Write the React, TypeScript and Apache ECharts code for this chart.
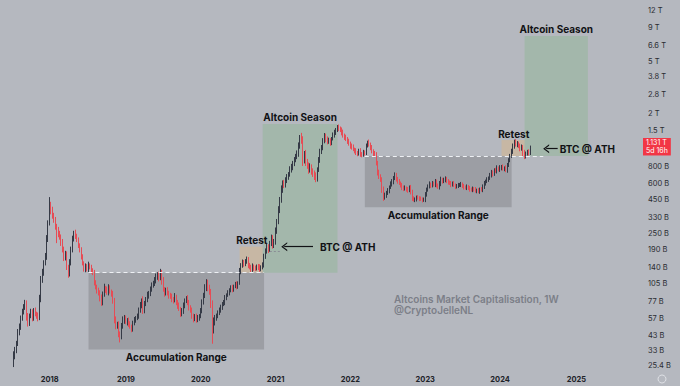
import React, { useEffect, useRef } from 'react';
import * as echarts from 'echarts';

// ---------- data ----------
const axisStart = '2017-05-08';
const axisWeeks = 419;
const firstCandle = '2017-07-10';
const firstOpen = 28;

// weekly closes (billions USD)
const closes = [
  30, 33, 37, 45, 50, 58, 64, 70, 74, 60,
  53, 60, 64, 58, 66, 62, 60, 58, 80, 112,
  128, 150, 167, 230, 300, 410, 380, 345, 318, 285,
  265, 250, 237, 215, 190, 167, 175, 140, 125, 150,
  190, 232, 255, 240, 225, 205, 188, 168, 150, 136,
  142, 135, 145, 140, 133, 128, 106, 100, 94, 89,
  82, 75, 88, 97, 95, 90, 98, 92, 89, 78,
  56, 50, 52, 44, 42, 50, 55, 58, 54, 56,
  52, 50, 48, 53, 56, 58, 60, 66, 72, 78,
  66, 74, 80, 86, 88, 96, 102, 106, 112, 118,
  122, 116, 128, 112, 96, 89, 94, 90, 86, 84,
  80, 79, 84, 76, 72, 68, 62, 66, 72, 78,
  82, 76, 70, 66, 60, 57, 60, 56, 58, 60,
  66, 76, 86, 98, 108, 100, 92, 74, 48, 54,
  58, 60, 64, 66, 70, 74, 76, 82, 86, 90,
  94, 98, 95, 100, 104, 100, 106, 130, 144, 152,
  148, 156, 160, 146, 140, 134, 142, 138, 136, 142,
  140, 134, 140, 146, 168, 186, 198, 190, 212, 232,
  205, 215, 265, 310, 380, 450, 540, 600, 580, 640,
  670, 700, 760, 800, 850, 900, 960, 1010, 1150, 1320,
  1280, 900, 1000, 880, 820, 760, 800, 740, 720, 690,
  650, 760, 900, 1060, 1120, 1250, 1380, 1300, 1240, 1260,
  1210, 1300, 1380, 1460, 1520, 1600, 1560, 1520, 1450, 1380,
  1340, 1300, 1250, 1200, 1150, 1120, 1080, 1060, 1020, 1010,
  1050, 1000, 980, 1030, 1020, 1150, 1220, 1180, 1120, 1050,
  1010, 980, 860, 730, 680, 640, 540, 470, 490, 510,
  530, 560, 590, 620, 660, 690, 650, 620, 600, 580,
  560, 545, 550, 540, 535, 560, 520, 460, 450, 455,
  470, 465, 458, 455, 448, 450, 490, 540, 565, 590,
  575, 600, 590, 615, 580, 560, 600, 640, 620, 635,
  650, 620, 610, 600, 590, 600, 580, 565, 575, 580,
  585, 590, 570, 560, 555, 565, 550, 540, 535, 545,
  540, 525, 530, 520, 540, 535, 560, 600, 620, 640,
  655, 690, 720, 710, 755, 740, 780, 760, 790, 800,
  770, 780, 750, 820, 900, 960, 1040, 1150, 1230, 1180,
  1200, 1150, 1100, 1120, 1020, 960, 1000, 1040, 1010, 1131,
];

// upper wick above the body, % of body top
const wickHighPct = [
  8, 6, 5, 6, 5, 4, 6, 5, 7, 6, 5, 4, 6, 5, 4, 5, 4, 6, 8, 7,
  6, 5, 7, 6, 5, 15, 6, 5, 4, 5, 4, 6, 5, 4, 6, 5, 6, 5, 4, 7,
  5, 4, 3, 5, 4, 4, 3, 5, 4, 3, 5, 4, 6, 3, 4, 3, 4, 5, 3, 4,
  5, 6, 4, 8, 4, 5, 6, 4, 3, 4, 5, 6, 4, 5, 4, 6, 8, 5, 4, 3,
  4, 5, 3, 4, 5, 3, 4, 5, 6, 4, 8, 5, 4, 6, 5, 4, 5, 4, 5, 6,
  5, 6, 6, 4, 5, 3, 4, 5, 3, 4, 5, 4, 6, 3, 4, 5, 3, 4, 5, 4,
  3, 5, 4, 3, 5, 4, 3, 4, 5, 3, 4, 5, 4, 6, 5, 4, 3, 4, 6, 8,
  5, 4, 3, 5, 4, 3, 4, 5, 3, 4, 3, 4, 5, 3, 4, 5, 3, 6, 4, 5,
  4, 3, 5, 4, 3, 4, 5, 3, 4, 3, 4, 5, 3, 4, 5, 4, 6, 5, 4, 6,
  5, 6, 5, 4, 6, 5, 7, 5, 6, 4, 5, 4, 6, 5, 4, 5, 4, 5, 6, 5,
  9, 6, 5, 7, 4, 5, 6, 4, 5, 4, 5, 4, 5, 3, 4, 5, 4, 3, 4, 5,
  4, 3, 5, 4, 3, 3, 4, 3, 4, 5, 3, 4, 3, 4, 3, 4, 5, 3, 4, 3,
  4, 5, 3, 4, 3, 4, 3, 5, 3, 4, 3, 4, 5, 3, 4, 3, 4, 5, 4, 3,
  4, 3, 5, 4, 3, 5, 4, 3, 4, 3, 4, 3, 5, 3, 4, 3, 4, 3, 4, 3,
  3, 4, 3, 4, 3, 4, 5, 3, 4, 5, 3, 4, 3, 5, 4, 3, 4, 5, 3, 4,
  4, 3, 4, 3, 4, 3, 4, 3, 3, 4, 3, 4, 3, 4, 3, 4, 3, 4, 3, 4,
  3, 4, 3, 4, 3, 4, 5, 4, 3, 4, 3, 4, 5, 4, 3, 4, 5, 3, 4, 3,
  4, 3, 5, 4, 3, 4, 5, 4, 4, 5, 4, 3, 4, 5, 4, 5, 4, 3, 4, 2,
];

// lower wick below the body, % of body bottom
const wickLowPct = [
  12, 6, 5, 4, 5, 6, 5, 4, 5, 8, 6, 5, 4, 6, 5, 4, 5, 6, 4, 5,
  5, 6, 4, 5, 6, 4, 8, 6, 5, 6, 20, 6, 5, 6, 5, 7, 6, 5, 7, 5,
  4, 5, 6, 5, 4, 5, 4, 5, 4, 5, 6, 4, 5, 4, 6, 5, 4, 5, 6, 4,
  6, 5, 4, 5, 6, 4, 5, 4, 6, 5, 6, 5, 4, 6, 10, 5, 4, 5, 4, 6,
  5, 4, 6, 5, 4, 5, 4, 5, 4, 5, 6, 5, 4, 5, 6, 4, 5, 4, 5, 6,
  5, 6, 4, 8, 5, 6, 4, 5, 6, 4, 5, 6, 4, 5, 6, 4, 5, 4, 6, 5,
  4, 5, 6, 4, 5, 6, 4, 5, 4, 5, 4, 5, 4, 5, 6, 8, 6, 7, 23, 8,
  6, 5, 4, 5, 4, 5, 4, 5, 4, 3, 5, 4, 5, 4, 3, 5, 4, 3, 5, 4,
  5, 4, 5, 6, 4, 5, 4, 5, 4, 3, 5, 4, 3, 4, 5, 4, 5, 6, 4, 5,
  6, 5, 4, 6, 5, 6, 5, 6, 5, 4, 6, 5, 4, 5, 6, 5, 4, 5, 6, 5,
  7, 10, 6, 8, 6, 7, 5, 6, 7, 8, 6, 5, 4, 5, 6, 5, 4, 6, 5, 4,
  5, 4, 3, 4, 5, 4, 5, 4, 5, 4, 5, 4, 5, 4, 5, 4, 3, 5, 4, 5,
  4, 5, 4, 3, 5, 4, 3, 4, 5, 4, 5, 4, 5, 6, 5, 4, 6, 6, 4, 5,
  4, 5, 3, 4, 5, 4, 5, 4, 3, 4, 5, 4, 3, 4, 5, 4, 5, 4, 3, 4,
  4, 3, 4, 3, 4, 3, 4, 3, 4, 3, 4, 3, 4, 5, 4, 3, 4, 5, 4, 3,
  4, 3, 4, 3, 5, 4, 3, 4, 3, 4, 3, 4, 3, 4, 3, 4, 3, 4, 3, 4,
  4, 3, 4, 3, 4, 3, 4, 3, 4, 3, 4, 3, 4, 5, 4, 3, 4, 3, 4, 5,
  3, 4, 3, 4, 3, 4, 3, 4, 5, 4, 5, 4, 5, 4, 6, 5, 4, 3, 4, 3,
];

const priceTicks = [25.4, 33, 43, 57, 77, 105, 140, 190, 250, 330, 450, 600, 800, 1500, 2000, 2800, 3800, 5000, 6600, 9000, 12000];
const axisMin = 23.42;
const axisMax = 14454;
const lastPrice = 1131;
const lastPriceText = '1.131 T';
const countdownText = '5d 16h';

// annotations: [from week, to week, low, high]
const accumulationBoxes: [string, string, number, number][] = [
  ['2018-07-09', '2020-11-09', 33.5, 127],
  ['2022-03-14', '2024-02-26', 395, 962],
];
const retestBoxes: [string, string, number, number][] = [
  ['2020-07-13', '2020-11-09', 127, 199.5],
  ['2024-01-08', '2024-05-06', 962, 1270],
];
const seasonBoxes: [string, string, number, number][] = [
  ['2020-11-02', '2021-11-01', 127, 1678],
  ['2024-04-29', '2025-03-03', 962, 7730],
];
// [from, to, level]
const breakoutLines: [string, string, number][] = [
  ['2018-07-09', '2020-11-09', 127],
  ['2022-03-14', '2024-07-29', 962],
];
const athLevel: [string, string, number] = ['2020-12-07', '2021-02-01', 183];
// [tip, tail, level, label gap]
const athArrows: [string, string, number, number][] = [
  ['2021-02-15', '2021-07-05', 199.5, 7],
  ['2024-08-12', '2024-10-07', 1092, 2],
];

const watermark = 'Altcoins Market Capitalisation, 1W\n@CryptoJelleNL';

// ---------- helpers ----------
const WEEK = 7 * 86400000;
const toUTC = (s: string) => {
  const [y, m, d] = s.split('-').map(Number);
  return Date.UTC(y, m - 1, d);
};
const weeks = Array.from({ length: axisWeeks }, (_, i) =>
  new Date(toUTC(axisStart) + i * WEEK).toISOString().slice(0, 10)
);
const weekIndex = (s: string) => Math.round((toUTC(s) - toUTC(axisStart)) / WEEK);
const wk = (s: string) => weeks[weekIndex(s)];

const fmtPrice = (v: number) =>
  v >= 1000 ? `${+(v / 1000).toFixed(2)} T` : `${v} B`;

const UP = '#353a46';
const DOWN = '#e64c55';
const LABEL = { color: '#111215', fontSize: 10, fontWeight: 'bold' as const };

function buildCandles() {
  const off = weekIndex(firstCandle);
  return closes.map((c, i) => {
    const o = i === 0 ? firstOpen : closes[i - 1];
    const hi = Math.max(o, c) * (1 + wickHighPct[i] / 100);
    const lo = Math.min(o, c) * (1 - wickLowPct[i] / 100);
    return [off + i, o, c, lo, hi];
  });
}

export default function App() {
  const ref = useRef<HTMLDivElement>(null);
  useEffect(() => {
    if (!ref.current) return;
    const chart = echarts.init(ref.current, null, { renderer: 'svg' });

    const areaData: any[] = [];
    accumulationBoxes.forEach(([a, b, lo, hi]) =>
      areaData.push([
        { xAxis: wk(a), yAxis: lo, itemStyle: { color: '#9c9ea4' },
          label: { show: true, position: 'bottom', distance: 3, formatter: 'Accumulation Range', ...LABEL } },
        { xAxis: wk(b), yAxis: hi },
      ])
    );
    retestBoxes.forEach(([a, b, lo, hi]) =>
      areaData.push([
        { xAxis: wk(a), yAxis: lo, itemStyle: { color: '#c7b7a4' },
          label: { show: true, position: 'top', distance: 1.5, formatter: 'Retest', ...LABEL } },
        { xAxis: wk(b), yAxis: hi },
      ])
    );
    seasonBoxes.forEach(([a, b, lo, hi]) =>
      areaData.push([
        { xAxis: wk(a), yAxis: lo, itemStyle: { color: '#a3b7ab' },
          label: { show: true, position: 'top', distance: 2, formatter: 'Altcoin Season', ...LABEL } },
        { xAxis: wk(b), yAxis: hi },
      ])
    );

    const chevron = 'path://M0,10L5,0L10,10L8.4,10L5,3.2L1.6,10Z';
    const lineData: any[] = [];
    breakoutLines.forEach(([a, b, v]) =>
      lineData.push([
        { coord: [wk(a), v], lineStyle: { color: '#eef0f4', type: [4, 3], width: 1 } },
        { coord: [wk(b), v] },
      ])
    );
    lineData.push([
      { coord: [wk(athLevel[0]), athLevel[2]], lineStyle: { color: '#8a8d95', type: [2, 2], width: 1 } },
      { coord: [wk(athLevel[1]), athLevel[2]] },
    ]);
    athArrows.forEach(([a, b, v, gap]) =>
      lineData.push([
        { coord: [wk(a), v], symbol: chevron, symbolSize: [9, 6],
          lineStyle: { color: '#111215', type: 'solid', width: 1.2 },
          label: { show: true, position: 'end', distance: gap, formatter: 'BTC @ ATH', ...LABEL } },
        { coord: [wk(b), v], symbol: 'none' },
      ])
    );
    lineData.push({
      yAxis: lastPrice,
      lineStyle: { color: 'rgba(0,0,0,0)', width: 0.01 },
      label: {
        show: true, position: 'end', distance: 40,
        formatter: `${lastPriceText}\n${countdownText}`,
        backgroundColor: '#f23645', color: '#ffffff', fontSize: 7, lineHeight: 7.5,
        padding: [1.5, 3, 1, 3], align: 'left',
      },
    });

    chart.setOption({
      animation: false,
      backgroundColor: '#b5b8bf',
      textStyle: { fontFamily: 'Inter, Roboto, sans-serif' },
      grid: { left: 0, right: 77, top: 0, bottom: 16, containLabel: false, outerBoundsMode: 'none' },
      xAxis: {
        type: 'category',
        data: weeks,
        boundaryGap: true,
        axisLine: { show: false },
        axisTick: { show: false },
        splitLine: { show: false },
        axisLabel: {
          interval: (_i: number, v: string) => v.slice(5, 7) === '01' && +v.slice(8) <= 7,
          formatter: (v: string) => v.slice(0, 4),
          color: '#202228', fontSize: 7.5, fontWeight: 'bold', margin: 5,
        },
      },
      yAxis: {
        type: 'log',
        logBase: 10,
        position: 'right',
        min: axisMin,
        max: axisMax,
        axisLine: { show: false },
        axisTick: { show: false },
        splitLine: { show: false },
        axisLabel: {
          customValues: priceTicks,
          formatter: (v: number) => fmtPrice(v),
          color: '#2a2c32', fontSize: 7.5, margin: 45, align: 'left',
        },
      },
      graphic: [
        {
          type: 'text', left: 394, top: 293,
          style: { text: watermark, fill: '#7c7f88', fontSize: 10, fontWeight: 600, lineHeight: 11, fontFamily: 'Inter, Roboto, sans-serif' },
        },
        {
          type: 'circle', shape: { cx: 662, cy: 379, r: 4 },
          style: { fill: 'none', stroke: '#dfe1e6', lineWidth: 1 },
        },
      ],
      series: [
        {
          type: 'candlestick',
          dimensions: ['week', 'open', 'close', 'lowest', 'highest'],
          encode: { x: 0, y: [1, 2, 3, 4] },
          data: buildCandles(),
          itemStyle: { color: UP, color0: DOWN, borderColor: UP, borderColor0: DOWN, borderWidth: 1 },
          markArea: { silent: true, data: areaData },
          markLine: {
            silent: true,
            symbol: ['none', 'none'],
            label: { show: false },
            data: lineData,
          },
        },
      ],
    });
    return () => chart.dispose();
  }, []);

  return (
    <div
      ref={ref}
      style={{ position: 'fixed', left: 0, top: 0, width: 680, height: 386 }}
    />
  );
}
